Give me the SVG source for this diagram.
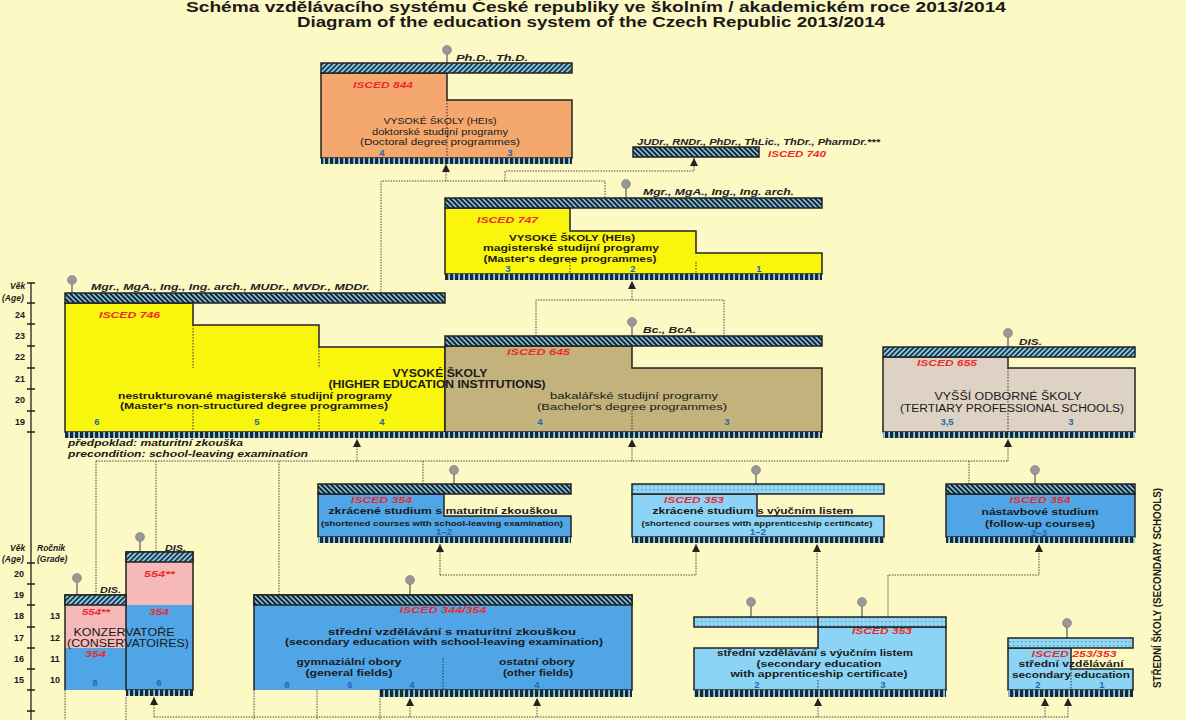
<svg xmlns="http://www.w3.org/2000/svg" width="1186" height="720" viewBox="0 0 1186 720">
<style>
text{font-family:'Liberation Sans',Arial,sans-serif;fill:#1a1a1a}
.b{font-weight:bold}
.c{text-anchor:middle}
.isc{font-style:italic;font-weight:bold;font-size:9px;fill:#ee2a2a}
.deg{font-style:italic;font-weight:bold;font-size:8.5px;fill:#222}
.num{font-weight:bold;font-size:9.5px;fill:#2169b0;text-anchor:middle}
.ax{font-weight:bold;font-size:9px;text-anchor:middle}
.bd{stroke:#222;stroke-width:1.5}
.ln{fill:none;stroke:#222;stroke-width:1.5}
.dv{fill:none;stroke:#333;stroke-width:1;stroke-dasharray:1.5 1.5}
.cn{fill:none;stroke:#4a4a4a;stroke-width:1;stroke-dasharray:1.5 1.2}
.ar{fill:none;stroke:#4a4a4a;stroke-width:1;stroke-dasharray:1.5 1.2;marker-end:url(#ah)}
.pin{fill:#989898;stroke:#7a7a7a;stroke-width:0.6}
.stem{stroke:#707070;stroke-width:1.4}
.tk{stroke:#222;stroke-width:1.3}
</style>
<defs>
<pattern id="hb" width="5" height="10" patternUnits="userSpaceOnUse" patternTransform="skewX(45)">
<rect width="5" height="10" fill="#86d3ef"/><rect width="3" height="10" fill="#1d2733"/>
</pattern>
<pattern id="hf" width="5" height="10" patternUnits="userSpaceOnUse" patternTransform="skewX(-45)">
<rect width="5" height="10" fill="#86d3ef"/><rect width="2.4" height="10" fill="#1d2733"/>
</pattern>
<pattern id="dt" width="4" height="4" patternUnits="userSpaceOnUse">
<rect width="4" height="4" fill="#92d8f3"/><rect x="1" y="1" width="1.4" height="1.4" fill="#4f9fc8"/>
</pattern>
<pattern id="cb" width="5" height="8" patternUnits="userSpaceOnUse">
<rect width="5" height="8" fill="#86d3ef"/><rect width="3.2" height="8" fill="#1d2733"/>
</pattern>
<marker id="ah" viewBox="0 0 8 8" refX="8" refY="4" markerWidth="8" markerHeight="8" markerUnits="userSpaceOnUse" orient="auto">
<path d="M0,0 L8,4 L0,8 Z" fill="#222"/>
</marker>
</defs>

<rect width="1186" height="720" fill="#fdf9c4"/>

<g id="title">
<text class="b c" x="596" y="12" font-size="14" textLength="820" lengthAdjust="spacingAndGlyphs">Schéma vzdělávacího systému České republiky ve školním / akademickém roce 2013/2014</text>
<text class="b c" x="591" y="27" font-size="14" textLength="588" lengthAdjust="spacingAndGlyphs">Diagram of the education system of the Czech Republic 2013/2014</text>
</g>

<g id="connectors">
<path class="cn" d="M381,293 V181 H605 V198"/>
<path class="ar" d="M446,181 V164"/>
<path class="ar" d="M505,181 V171 H694 V158"/>
<path class="cn" d="M536,336 V300 H724 V336"/>
<path class="ar" d="M632,300 V281"/>
<path class="cn" d="M96,461 H1008"/>
<path class="cn" d="M96,461 V595"/>
<path class="cn" d="M156,461 V552"/>
<path class="cn" d="M279,461 V595"/>
<path class="cn" d="M423,461 V484"/>
<path class="cn" d="M969,461 V484"/>
<path class="ar" d="M357,461 V439"/>
<path class="ar" d="M632,461 V439"/>
<path class="ar" d="M1008,461 V439"/>
<path class="ar" d="M440,575 V544"/>
<path class="ar" d="M440,575 H696 V544"/>
<path class="ar" d="M817,617 V544"/>
<path class="ar" d="M888,617 V575 H1039 V544"/>
<path class="cn" d="M154,717 H1068"/>
<path class="ar" d="M154,717 V697"/>
<path class="ar" d="M410,717 V698"/>
<path class="ar" d="M537,717 V698"/>
<path class="ar" d="M818,717 V698"/>
<path class="ar" d="M1045,717 V698"/>
<path class="ar" d="M1068,717 V698"/>
<path class="cn" d="M65,690 V720 M126,697 V720 M254,690 V720 M317,682 V720 M380,682 V720"/>
</g>

<g id="age-axis">
<line class="tk" x1="31" y1="283" x2="31" y2="720"/>
<path class="tk" d="M27,283 H35 M27,303 H35 M27,324 H35 M27,346 H35 M27,368 H35 M27,389 H35 M27,411 H35 M27,432 H35 M27,563 H35 M27,584 H35 M27,605 H35 M27,627 H35 M27,648 H35 M27,669 H35 M27,690 H35 M27,711 H35"/>
<text class="b" x="10" y="289" font-size="8.5" font-style="italic">Věk</text>
<text class="b" x="2" y="301" font-size="8.5" font-style="italic">(Age)</text>
<text class="ax" x="20" y="318">24</text>
<text class="ax" x="20" y="339">23</text>
<text class="ax" x="20" y="360">22</text>
<text class="ax" x="20" y="382">21</text>
<text class="ax" x="20" y="403">20</text>
<text class="ax" x="20" y="425">19</text>
<text class="b" x="10" y="551" font-size="8.5" font-style="italic">Věk</text>
<text class="b" x="2" y="562" font-size="8.5" font-style="italic">(Age)</text>
<text class="b" x="37" y="551" font-size="8.5" font-style="italic">Ročník</text>
<text class="b" x="37" y="562" font-size="8.5" font-style="italic">(Grade)</text>
<text class="ax" x="19" y="577">20</text>
<text class="ax" x="19" y="598">19</text>
<text class="ax" x="19" y="619">18</text>
<text class="ax" x="19" y="641">17</text>
<text class="ax" x="19" y="662">16</text>
<text class="ax" x="19" y="683">15</text>
<text class="ax" x="55" y="619">13</text>
<text class="ax" x="55" y="641">12</text>
<text class="ax" x="55" y="662">11</text>
<text class="ax" x="55" y="683">10</text>
</g>

<g id="isced844">
<line class="stem" x1="447" y1="53" x2="447" y2="63"/>
<circle class="pin" cx="447" cy="50" r="4.5"/>
<text class="deg" x="456" y="61" textLength="72" lengthAdjust="spacingAndGlyphs">Ph.D., Th.D.</text>
<path class="bd" d="M321,73 H447 V100 H572 V158 H321 Z" fill="#f4a86e"/>
<rect class="bd" x="321" y="63" width="251" height="10" fill="url(#hf)"/>
<line class="dv" x1="447" y1="100" x2="447" y2="158"/>
<rect x="321" y="158" width="251" height="6" fill="url(#cb)"/>
<text class="isc" x="353" y="88" textLength="60" lengthAdjust="spacingAndGlyphs">ISCED 844</text>
<text class="c" x="440" y="124" font-size="9.5" textLength="113" lengthAdjust="spacingAndGlyphs">VYSOKÉ ŠKOLY (HEIs)</text>
<text class="c" x="440" y="135" font-size="9.5" textLength="136" lengthAdjust="spacingAndGlyphs">doktorské studijní programy</text>
<text class="c" x="440" y="145" font-size="9.5" textLength="160" lengthAdjust="spacingAndGlyphs">(Doctoral degree programmes)</text>
<text class="num" x="382" y="156">4</text>
<text class="num" x="510" y="156">3</text>
</g>

<g id="isced740">
<text class="deg" x="637" y="145" textLength="243" lengthAdjust="spacingAndGlyphs">JUDr., RNDr., PhDr., ThLic., ThDr., PharmDr.***</text>
<rect class="bd" x="633" y="147" width="126" height="10" fill="url(#hb)"/>
<text class="isc" x="768" y="157" textLength="58" lengthAdjust="spacingAndGlyphs">ISCED 740</text>
</g>

<g id="isced747">
<line class="stem" x1="626" y1="187" x2="626" y2="198"/>
<circle class="pin" cx="626" cy="184" r="4.5"/>
<text class="deg" x="643" y="195" textLength="151" lengthAdjust="spacingAndGlyphs">Mgr., MgA., Ing., Ing. arch.</text>
<path class="bd" d="M445,208 H570 V231 H696 V253 H822 V274 H445 Z" fill="#faf50c"/>
<rect class="bd" x="445" y="198" width="377" height="10" fill="url(#hb)"/>
<path class="dv" d="M570,262 V274 M696,262 V274"/>
<rect x="445" y="274" width="377" height="6" fill="url(#cb)"/>
<text class="isc" x="477" y="223" textLength="61" lengthAdjust="spacingAndGlyphs">ISCED 747</text>
<text class="b c" x="572" y="241" font-size="9.5" textLength="126" lengthAdjust="spacingAndGlyphs">VYSOKÉ ŠKOLY (HEIs)</text>
<text class="b c" x="571" y="251" font-size="9.5" textLength="176" lengthAdjust="spacingAndGlyphs">magisterské studijní programy</text>
<text class="b c" x="570" y="262" font-size="9.5" textLength="173" lengthAdjust="spacingAndGlyphs">(Master's degree programmes)</text>
<text class="num" x="508" y="272">3</text>
<text class="num" x="633" y="272">2</text>
<text class="num" x="759" y="272">1</text>
</g>

<g id="isced746">
<line class="stem" x1="72" y1="283" x2="72" y2="293"/>
<circle class="pin" cx="72" cy="280" r="4.5"/>
<text class="deg" x="91" y="290" textLength="279" lengthAdjust="spacingAndGlyphs">Mgr., MgA., Ing., Ing. arch., MUDr., MVDr., MDDr.</text>
<path class="bd" d="M65,303 H193 V325 H319 V347 H445 V432 H65 Z" fill="#faf50c"/>
<rect class="bd" x="65" y="293" width="380" height="10" fill="url(#hb)"/>
<path class="dv" d="M193,325 V368 M193,410 V432 M319,347 V368 M319,410 V432"/>
<text class="isc" x="99" y="318" textLength="61" lengthAdjust="spacingAndGlyphs">ISCED 746</text>
<text class="b c" x="255" y="399" font-size="9.5" textLength="274" lengthAdjust="spacingAndGlyphs">nestrukturované magisterské studijní programy</text>
<text class="b c" x="254" y="409" font-size="9.5" textLength="268" lengthAdjust="spacingAndGlyphs">(Master's non-structured degree programmes)</text>
<text class="num" x="97" y="425">6</text>
<text class="num" x="257" y="425">5</text>
<text class="num" x="382" y="425">4</text>
</g>

<g id="isced645">
<line class="stem" x1="632" y1="325" x2="632" y2="336"/>
<circle class="pin" cx="632" cy="322" r="4.5"/>
<text class="deg" x="643" y="333" textLength="53" lengthAdjust="spacingAndGlyphs">Bc., BcA.</text>
<path class="bd" d="M445,346 H632 V368 H822 V432 H445 Z" fill="#c4b27c"/>
<rect class="bd" x="445" y="336" width="377" height="10" fill="url(#hb)"/>
<line class="dv" x1="632" y1="410" x2="632" y2="432"/>
<text class="isc" x="507" y="355" textLength="63" lengthAdjust="spacingAndGlyphs">ISCED 645</text>
<text class="c" x="634" y="399" font-size="9.5" textLength="168" lengthAdjust="spacingAndGlyphs">bakalářské studijní programy</text>
<text class="c" x="632" y="410" font-size="9.5" textLength="190" lengthAdjust="spacingAndGlyphs">(Bachelor's degree programmes)</text>
<text class="num" x="540" y="425">4</text>
<text class="num" x="727" y="425">3</text>
</g>

<g id="hei-common">
<rect x="65" y="432" width="757" height="6" fill="url(#cb)"/>
<text class="b c" x="440" y="377" font-size="10.5" textLength="95" lengthAdjust="spacingAndGlyphs">VYSOKÉ ŠKOLY</text>
<text class="b c" x="437" y="388" font-size="10.5" textLength="217" lengthAdjust="spacingAndGlyphs">(HIGHER EDUCATION INSTITUTIONS)</text>
<text class="b" x="68" y="446" font-size="8.5" font-style="italic" textLength="175" lengthAdjust="spacingAndGlyphs">předpoklad: maturitní zkouška</text>
<text class="b" x="68" y="457" font-size="8.5" font-style="italic" textLength="240" lengthAdjust="spacingAndGlyphs">precondition: school-leaving examination</text>
</g>

<g id="isced655">
<line class="stem" x1="1008" y1="336" x2="1008" y2="347"/>
<circle class="pin" cx="1008" cy="333" r="4.5"/>
<text class="deg" x="1019" y="345" textLength="23" lengthAdjust="spacingAndGlyphs">DIS.</text>
<path class="bd" d="M883,357 H1008 V368 H1135 V432 H883 Z" fill="#ded2c4"/>
<rect class="bd" x="883" y="347" width="252" height="10" fill="url(#hf)"/>
<line class="dv" x1="1008" y1="368" x2="1008" y2="432"/>
<rect x="883" y="432" width="252" height="6" fill="url(#cb)"/>
<text class="isc" x="917" y="366" textLength="60" lengthAdjust="spacingAndGlyphs">ISCED 655</text>
<text class="c" x="1008" y="400" font-size="10" textLength="147" lengthAdjust="spacingAndGlyphs">VYŠŠÍ ODBORNÉ ŠKOLY</text>
<text class="c" x="1012" y="412" font-size="10" textLength="224" lengthAdjust="spacingAndGlyphs">(TERTIARY PROFESSIONAL SCHOOLS)</text>
<text class="num" x="947" y="425">3,5</text>
<text class="num" x="1071" y="425">3</text>
</g>

<g id="short354">
<line class="stem" x1="454" y1="473" x2="454" y2="484"/>
<circle class="pin" cx="454" cy="470" r="4.5"/>
<path class="bd" d="M318,494 H444 V516 H571 V537 H318 Z" fill="#50a5e6"/>
<rect class="bd" x="318" y="484" width="253" height="10" fill="url(#hb)"/>
<rect x="318" y="537" width="253" height="6" fill="url(#cb)"/>
<text class="isc" x="351" y="503" textLength="61" lengthAdjust="spacingAndGlyphs">ISCED 354</text>
<text class="b c" x="443" y="514" font-size="8.5" textLength="229" lengthAdjust="spacingAndGlyphs">zkrácené studium s maturitní zkouškou</text>
<text class="b c" x="442" y="526" font-size="7" textLength="242" lengthAdjust="spacingAndGlyphs">(shortened courses with school-leaving examination)</text>
<text class="num" x="444" y="535">1–2</text>
</g>

<g id="short353">
<line class="stem" x1="756" y1="473" x2="756" y2="484"/>
<circle class="pin" cx="756" cy="470" r="4.5"/>
<path class="bd" d="M632,494 H757 V516 H884 V537 H632 Z" fill="#8cd4f5"/>
<rect class="bd" x="632" y="484" width="252" height="10" fill="url(#dt)"/>
<rect x="632" y="537" width="252" height="6" fill="url(#cb)"/>
<text class="isc" x="664" y="503" textLength="60" lengthAdjust="spacingAndGlyphs">ISCED 353</text>
<text class="b c" x="753" y="514" font-size="8.5" textLength="201" lengthAdjust="spacingAndGlyphs">zkrácené studium s výučním listem</text>
<text class="b c" x="757" y="526" font-size="7" textLength="231" lengthAdjust="spacingAndGlyphs">(shortened courses with apprenticeship certificate)</text>
<text class="num" x="758" y="535">1–2</text>
</g>

<g id="followup354">
<line class="stem" x1="1035" y1="473" x2="1035" y2="484"/>
<circle class="pin" cx="1035" cy="470" r="4.5"/>
<rect class="bd" x="946" y="494" width="189" height="43" fill="#50a5e6"/>
<rect class="bd" x="946" y="484" width="189" height="10" fill="url(#hb)"/>
<rect x="946" y="537" width="189" height="6" fill="url(#cb)"/>
<text class="isc c" x="1040" y="503" textLength="61" lengthAdjust="spacingAndGlyphs">ISCED 354</text>
<text class="b c" x="1040" y="515" font-size="8.5" textLength="117" lengthAdjust="spacingAndGlyphs">nástavbové studium</text>
<text class="b c" x="1040" y="527" font-size="8.5" textLength="110" lengthAdjust="spacingAndGlyphs">(follow-up courses)</text>
<text class="num" x="1039" y="536">2–3</text>
</g>

<g id="conservatoires">
<line class="stem" x1="77" y1="581" x2="77" y2="595"/>
<circle class="pin" cx="77" cy="578" r="4.5"/>
<line class="stem" x1="140" y1="540" x2="140" y2="552"/>
<circle class="pin" cx="140" cy="537" r="4.5"/>
<text class="deg" x="100" y="593" textLength="21" lengthAdjust="spacingAndGlyphs">DIS.</text>
<text class="deg" x="165" y="551" textLength="21" lengthAdjust="spacingAndGlyphs">DIS.</text>
<rect x="65" y="605" width="61" height="43" fill="#f5b9b9"/>
<rect x="65" y="648" width="61" height="42" fill="#50a5e6"/>
<rect x="126" y="562" width="67" height="43" fill="#f5b9b9"/>
<rect x="126" y="605" width="67" height="85" fill="#50a5e6"/>
<path class="ln" d="M65,690 V595 H126"/>
<path class="ln" d="M126,552 H193 V690 H126 Z"/>
<rect class="bd" x="65" y="595" width="61" height="10" fill="url(#hf)"/>
<rect class="bd" x="126" y="552" width="67" height="10" fill="url(#hf)"/>
<rect x="126" y="690" width="67" height="6" fill="url(#cb)"/>
<text class="isc" x="82" y="615" textLength="28" lengthAdjust="spacingAndGlyphs">554**</text>
<text class="isc" x="144" y="577" textLength="31" lengthAdjust="spacingAndGlyphs">554**</text>
<text class="isc" x="149" y="615" textLength="20" lengthAdjust="spacingAndGlyphs">354</text>
<text class="isc" x="85" y="657" textLength="21" lengthAdjust="spacingAndGlyphs">354</text>
<text class="c" x="124" y="636" font-size="10.5" textLength="101" lengthAdjust="spacingAndGlyphs">KONZERVATOŘE</text>
<text class="c" x="128" y="647" font-size="10.5" textLength="122" lengthAdjust="spacingAndGlyphs">(CONSERVATOIRES)</text>
<text class="num" x="95" y="686">8</text>
<text class="num" x="159" y="686">6</text>
</g>

<g id="secondary344">
<line class="stem" x1="410" y1="583" x2="410" y2="595"/>
<circle class="pin" cx="410" cy="580" r="4.5"/>
<rect x="254" y="605" width="378" height="85" fill="#50a5e6"/>
<path class="ln" d="M254,690 V595 H632 V690 H380"/>
<rect class="bd" x="254" y="595" width="378" height="10" fill="url(#hb)"/>
<rect x="380" y="690" width="252" height="7" fill="url(#cb)"/>
<line class="dv" x1="443" y1="658" x2="443" y2="690"/>
<text class="isc c" x="443" y="613" textLength="87" lengthAdjust="spacingAndGlyphs">ISCED 344/354</text>
<text class="b c" x="452" y="635" font-size="9" textLength="248" lengthAdjust="spacingAndGlyphs">střední vzdělávání s maturitní zkouškou</text>
<text class="b c" x="444" y="645" font-size="9" textLength="318" lengthAdjust="spacingAndGlyphs">(secondary education with school-leaving examination)</text>
<text class="b c" x="349" y="665" font-size="9" textLength="105" lengthAdjust="spacingAndGlyphs">gymnaziální obory</text>
<text class="b c" x="349" y="676" font-size="9" textLength="87" lengthAdjust="spacingAndGlyphs">(general fields)</text>
<text class="b c" x="537" y="665" font-size="9" textLength="76" lengthAdjust="spacingAndGlyphs">ostatní obory</text>
<text class="b c" x="538" y="676" font-size="9" textLength="70" lengthAdjust="spacingAndGlyphs">(other fields)</text>
<text class="num" x="287" y="688">8</text>
<text class="num" x="350" y="688">6</text>
<text class="num" x="412" y="688">4</text>
<text class="num" x="537" y="688">4</text>
</g>

<g id="secondary353">
<line class="stem" x1="751" y1="605" x2="751" y2="617"/>
<circle class="pin" cx="751" cy="602" r="4.5"/>
<line class="stem" x1="862" y1="605" x2="862" y2="617"/>
<circle class="pin" cx="862" cy="602" r="4.5"/>
<path class="bd" d="M694,648 H818 V627 H946 V690 H694 Z" fill="#8cd4f5"/>
<rect class="bd" x="694" y="617" width="252" height="10" fill="url(#dt)"/>
<line class="ln" x1="818" y1="617" x2="818" y2="627"/>
<line class="dv" x1="818" y1="680" x2="818" y2="690"/>
<rect x="694" y="690" width="252" height="7" fill="url(#cb)"/>
<text class="isc" x="852" y="634" textLength="60" lengthAdjust="spacingAndGlyphs">ISCED 353</text>
<text class="b c" x="815" y="656" font-size="9" textLength="196" lengthAdjust="spacingAndGlyphs">střední vzdělávání s výučním listem</text>
<text class="b c" x="819" y="667" font-size="9" textLength="125" lengthAdjust="spacingAndGlyphs">(secondary education</text>
<text class="b c" x="819" y="677" font-size="9" textLength="177" lengthAdjust="spacingAndGlyphs">with apprenticeship certificate)</text>
<text class="num" x="757" y="688">2</text>
<text class="num" x="883" y="688">3</text>
</g>

<g id="secondary253">
<line class="stem" x1="1067" y1="626" x2="1067" y2="638"/>
<circle class="pin" cx="1067" cy="623" r="4.5"/>
<path class="bd" d="M1008,648 H1071 V669 H1133 V690 H1008 Z" fill="#8cd4f5"/>
<rect class="bd" x="1008" y="638" width="125" height="10" fill="url(#dt)"/>
<line class="dv" x1="1071" y1="669" x2="1071" y2="690"/>
<rect x="1008" y="690" width="125" height="7" fill="url(#cb)"/>
<text class="isc c" x="1074" y="657" textLength="85" lengthAdjust="spacingAndGlyphs">ISCED 253/353</text>
<text class="b c" x="1071" y="667" font-size="9" textLength="105" lengthAdjust="spacingAndGlyphs">střední vzdělávání</text>
<text class="b c" x="1071" y="678" font-size="9" textLength="118" lengthAdjust="spacingAndGlyphs">secondary education</text>
<text class="num" x="1038" y="688">2</text>
<text class="num" x="1102" y="688">1</text>
</g>

<g id="secondary-label">
<text class="b c" transform="translate(1161,588) rotate(-90)" font-size="10" textLength="200" lengthAdjust="spacingAndGlyphs">STŘEDNÍ ŠKOLY (SECONDARY SCHOOLS)</text>
</g>
</svg>
